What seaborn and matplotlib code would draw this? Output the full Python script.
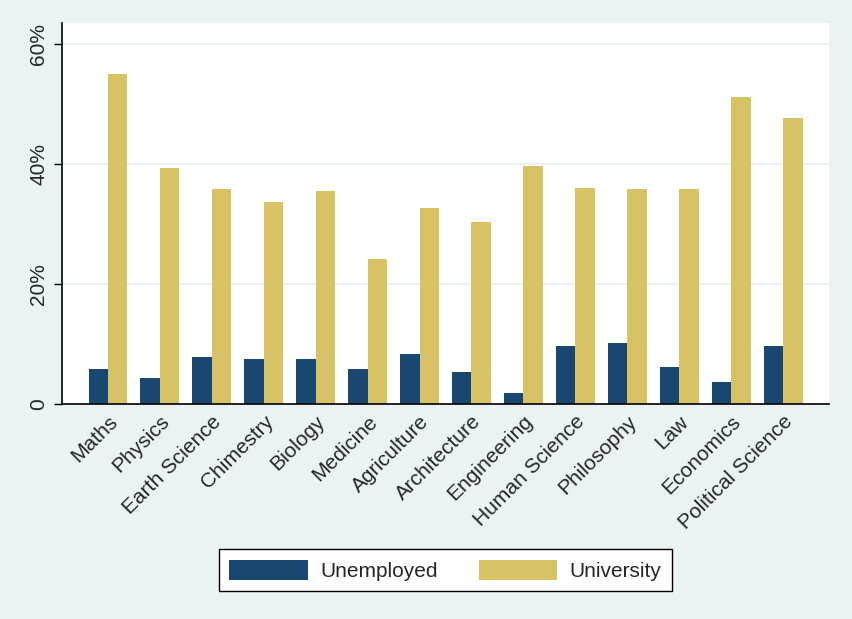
import pandas as pd
import matplotlib
matplotlib.use("Agg")
import matplotlib.pyplot as plt
import seaborn as sns

# Data (percent)
subjects = ["Maths", "Physics", "Earth Science", "Chimestry", "Biology", "Medicine",
            "Agriculture", "Architecture", "Engineering", "Human Science", "Philosophy",
            "Law", "Economics", "Political Science"]
unemployed = [5.8, 4.3, 7.8, 7.5, 7.5, 5.8, 8.3, 5.3, 1.8, 9.7, 10.2, 6.2, 3.7, 9.7]
university = [55.0, 39.3, 35.8, 33.7, 35.5, 24.2, 32.7, 30.3, 39.7, 36.0, 35.8, 35.8, 51.2, 47.7]
yticks = [0, 20, 40, 60]
ytick_labels = ["0", "20%", "40%", "60%"]

df = pd.DataFrame({
    "subject": subjects * 2,
    "value": unemployed + university,
    "group": ["Unemployed"] * len(subjects) + ["University"] * len(subjects),
})

sns.set_style("white")
plt.rcParams["font.family"] = ["Liberation Sans", "DejaVu Sans"]

bg = "#EAF2F3"
fs = 15
fig = plt.figure(figsize=(8.52, 6.19), dpi=100, facecolor=bg)
ax = fig.add_axes([0.0728, 0.347, 0.9002, 0.616])
ax.set_facecolor("white")

sns.barplot(data=df, x="subject", y="value", hue="group",
            palette=["#1A476F", "#D7C266"], saturation=1, width=0.75,
            linewidth=0, edgecolor="none", ax=ax, legend=True)

ax.set_xlim(-0.885, 13.885)
ax.set_ylim(0, 63.5)
ax.set_yticks(yticks)
ax.set_yticklabels(ytick_labels, rotation=90, va="center", fontsize=fs)
ax.yaxis.grid(True, color=bg, linewidth=1.5)
ax.set_axisbelow(True)
ax.tick_params(axis="y", left=True, length=6, width=1, color="black", pad=4)
ax.tick_params(axis="x", bottom=False, pad=2)
plt.setp(ax.get_xticklabels(), rotation=45, ha="right", rotation_mode="anchor", fontsize=fs)
ax.set_xlabel("")
ax.set_ylabel("")

for side in ["top", "right"]:
    ax.spines[side].set_visible(False)
for side in ["left", "bottom"]:
    ax.spines[side].set_color("black")
    ax.spines[side].set_linewidth(1.2)

handles, labels = ax.get_legend_handles_labels()
ax.get_legend().remove()
leg = fig.legend(handles, labels, loc="center", bbox_to_anchor=(0.523, 0.079), ncol=2,
                 fontsize=fs, handlelength=3.75, handleheight=1.1, columnspacing=2.0,
                 handletextpad=0.6, fancybox=False, framealpha=1, edgecolor="black",
                 borderpad=0.5)
leg.get_frame().set_linewidth(1.0)

fig.savefig("out.png", dpi=100, facecolor=bg)
